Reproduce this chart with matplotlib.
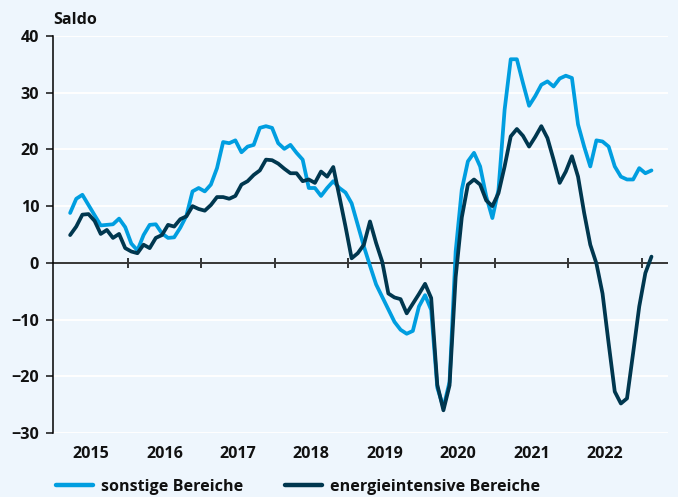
import numpy as np
import matplotlib
matplotlib.use("Agg")
import matplotlib.pyplot as plt

# Monthly values, Mar 2015 .. Feb 2023
sonstige = [8.8, 11.3, 12.0, 10.2, 8.4, 6.6, 6.7, 6.8, 7.8, 6.3, 3.4, 2.2,
            4.9, 6.7, 6.8, 5.2, 4.4, 4.5, 6.2, 8.3, 12.6, 13.2, 12.6, 13.8,
            16.7, 21.3, 21.1, 21.6, 19.5, 20.5, 20.8, 23.8, 24.1, 23.8, 21.1, 20.1,
            20.8, 19.4, 18.2, 13.2, 13.2, 11.8, 13.2, 14.4, 13.2, 12.4, 10.5, 6.7,
            2.9, -0.5, -3.8, -6.0, -8.2, -10.4, -11.8, -12.5, -12.0, -7.7, -5.7, -8.3,
            -22.0, -25.5, -21.0, 2.0, 12.9, 17.9, 19.4, 17.0, 11.7, 7.9, 12.9, 27.0,
            35.9, 35.9, 31.7, 27.7, 29.4, 31.4, 32.0, 31.1, 32.5, 33.0, 32.6, 24.4,
            20.5, 17.0, 21.6, 21.4, 20.5, 17.0, 15.2, 14.7, 14.7, 16.7, 15.8, 16.3]
energieintensiv = [4.9, 6.4, 8.5, 8.6, 7.4, 5.1, 5.8, 4.4, 5.1, 2.6, 2.0, 1.7,
                   3.2, 2.6, 4.4, 4.9, 6.7, 6.4, 7.7, 8.2, 10.0, 9.5, 9.2, 10.2,
                   11.6, 11.6, 11.3, 11.8, 13.8, 14.4, 15.5, 16.3, 18.2, 18.1, 17.5, 16.6,
                   15.8, 15.8, 14.4, 14.7, 14.1, 16.1, 15.2, 16.9, 11.7, 6.4, 0.8, 1.7,
                   3.2, 7.3, 3.5, 0.2, -5.4, -6.1, -6.4, -8.9, -7.2, -5.5, -3.7, -6.2,
                   -21.5, -26.0, -21.6, -2.5, 8.0, 13.8, 14.7, 13.8, 11.0, 10.0, 12.3, 17.0,
                   22.3, 23.6, 22.4, 20.5, 22.2, 24.1, 22.0, 18.2, 14.1, 16.1, 18.8, 15.2,
                   8.8, 3.2, -0.1, -5.4, -14.2, -22.7, -24.8, -23.9, -15.9, -7.7, -1.8, 1.1]
years = [2015, 2016, 2017, 2018, 2019, 2020, 2021, 2022]
yticks = [-30, -20, -10, 0, 10, 20, 30, 40]
series_names = ["sonstige Bereiche", "energieintensive Bereiche"]

LIGHT = "#009EE0"
DARK = "#00374F"
BG = "#EEF6FD"
FONT = ["Open Sans", "DejaVu Sans"]
FS = 11.6
WEIGHT = "bold"

plt.rcParams['font.family'] = FONT
plt.rcParams['font.weight'] = WEIGHT

fig = plt.figure(figsize=(6.78, 4.97), dpi=100, facecolor=BG)
ax = fig.add_axes([53/678, 1-433/497, (668-53)/678, (433-36)/497])
ax.set_facecolor(BG)

n = len(sonstige)
x = 2015 + (np.arange(n) + 2.6) / 12.0

ax.set_ylim(-30, 40)
ax.set_xlim(2015 - 0.2/12, 2015 + 100.3/12)

ax.set_yticks(yticks)
ax.set_yticklabels([("\u2212%d" % -v) if v < 0 else str(v) for v in yticks])
ax.yaxis.grid(True, color="white", lw=1.4)
ax.set_axisbelow(True)
for s in ["top", "right", "bottom"]:
    ax.spines[s].set_visible(False)
ax.spines["left"].set_color("black")
ax.spines["left"].set_linewidth(1.1)
ax.tick_params(axis="y", length=5, width=1.1, pad=5, labelsize=FS, colors="#111111")

# year labels at mid-year on the bottom axis
ax.set_xticks([y + 1 for y in years])
ax.set_xticklabels([])
ax.tick_params(axis="x", which="major", length=0)
ax.set_xticks([y + 0.5 for y in years], minor=True)
ax.set_xticklabels([str(y) for y in years], minor=True)
ax.tick_params(axis="x", which="minor", length=0, pad=9, labelsize=FS, colors="#111111")

# zero line with year-boundary ticks
ax.axhline(0, color="black", lw=1.1, zorder=2)
sec = ax.secondary_xaxis(30/70)
sec.set_xticks([y + 1 for y in years])
sec.tick_params(axis="x", direction="inout", length=7, width=1.1, labelbottom=False, color="black")
sec.spines["bottom"].set_visible(False)

ax.plot(x, sonstige, color=LIGHT, lw=2.7, solid_joinstyle="round", solid_capstyle="round",
        label=series_names[0], zorder=3)
ax.plot(x, energieintensiv, color=DARK, lw=2.7, solid_joinstyle="round", solid_capstyle="round",
        label=series_names[1], zorder=4)

fig.text(53/678, 1-19.5/497, "Saldo", fontsize=FS, fontweight=WEIGHT, va="center", ha="left",
         color="#111111")

leg = fig.legend(loc="center left", bbox_to_anchor=(56/678, 1-487/497), ncol=2, frameon=False,
                 fontsize=FS, handlelength=2.3, handletextpad=0.5, columnspacing=2.6,
                 borderpad=0, borderaxespad=0)
for h in leg.get_lines():
    h.set_linewidth(3.2)
for t in leg.get_texts():
    t.set_color("#111111")

fig.savefig("out.png", dpi=100, facecolor=BG)
